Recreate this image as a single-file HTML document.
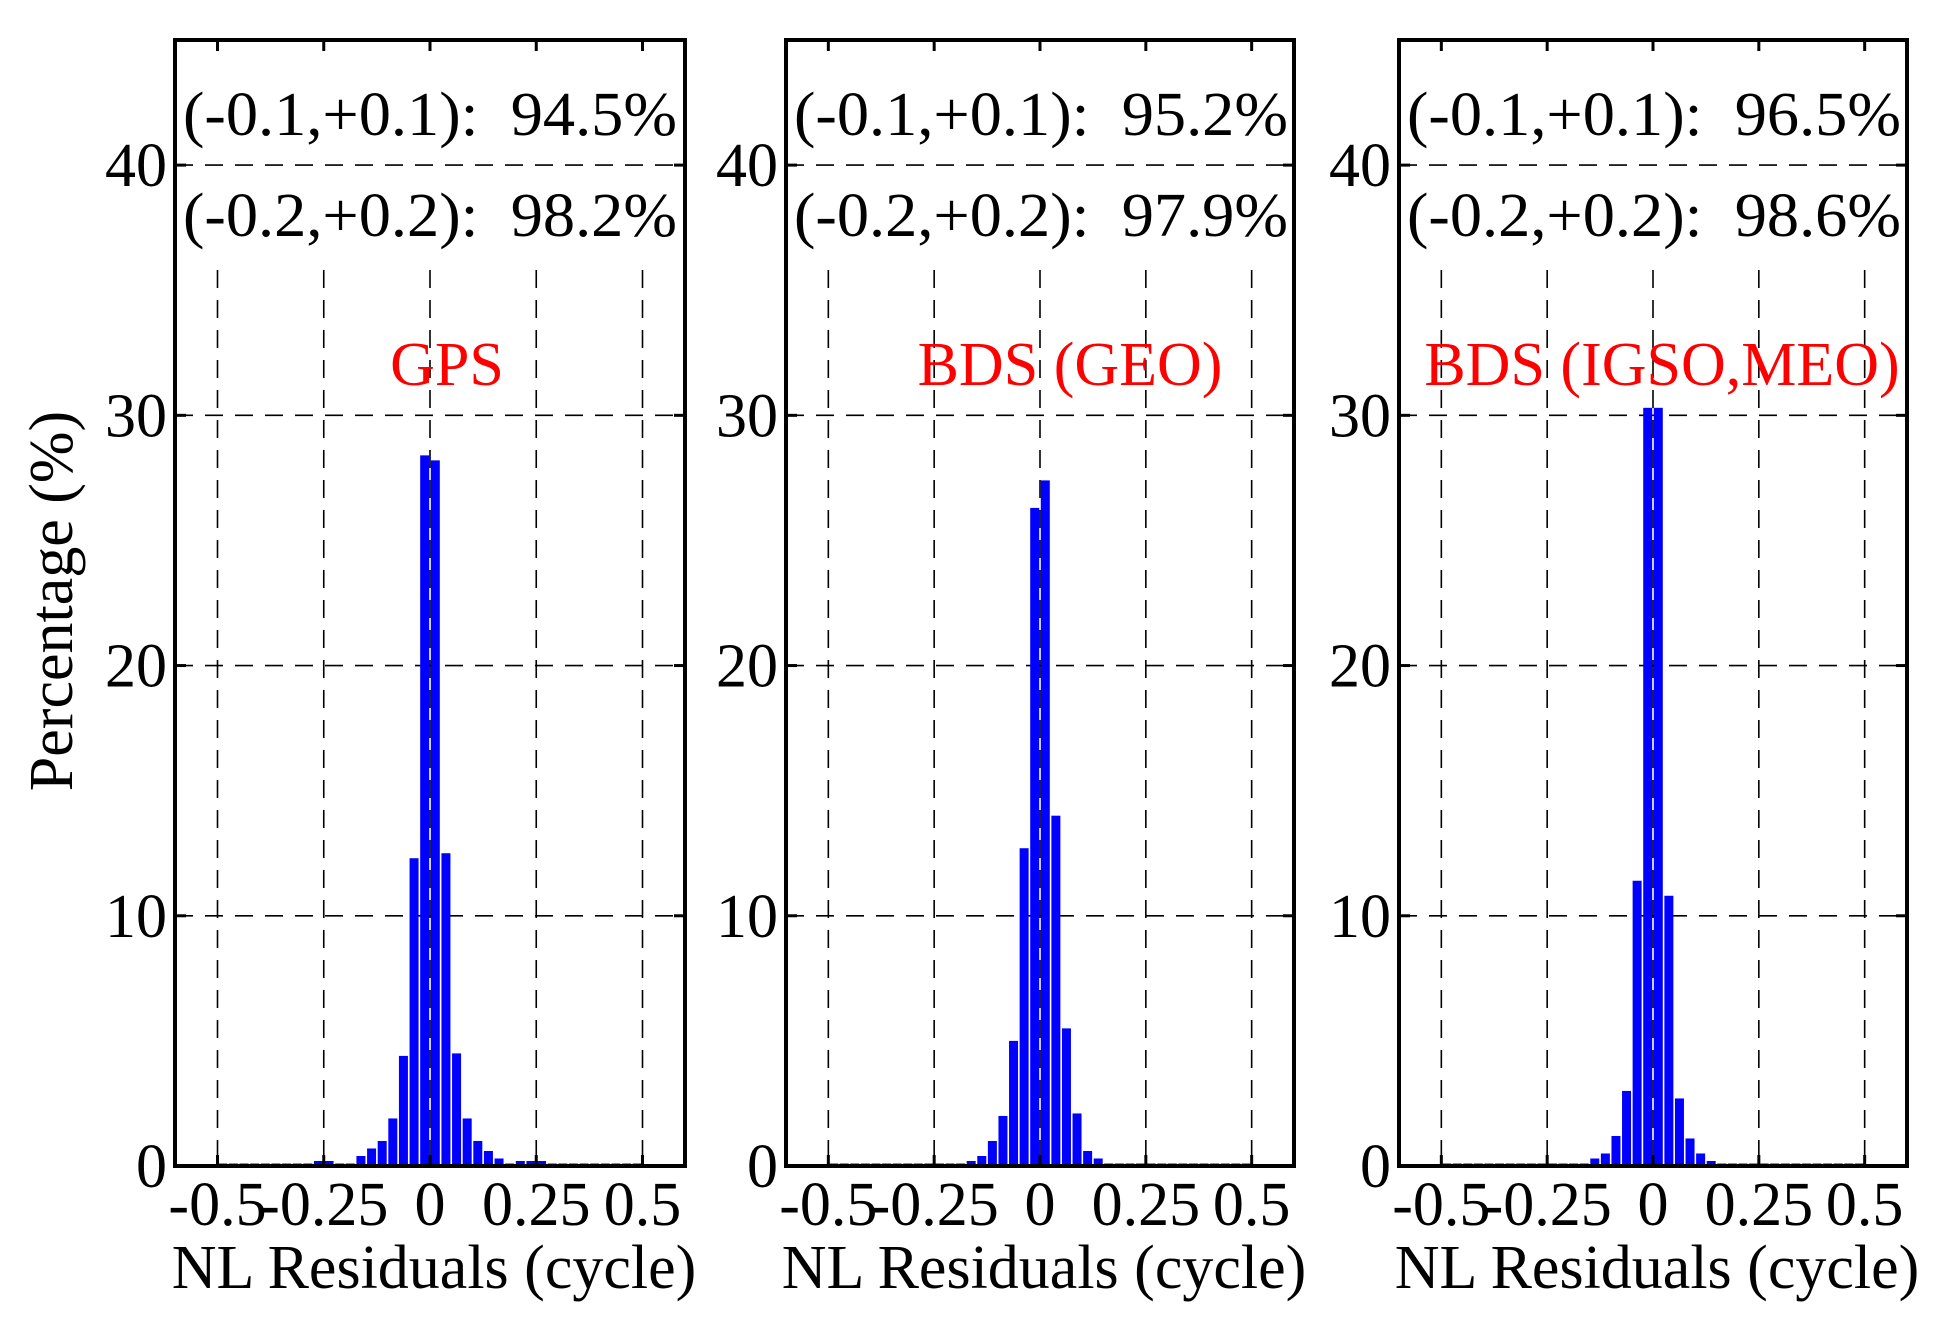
<!DOCTYPE html>
<html><head><meta charset="utf-8"><style>html,body{margin:0;padding:0;background:#fff}svg{display:block}svg text{font-family:"Liberation Serif",serif}</style></head>
<body>
<svg id="s" width="1953" height="1341" xmlns="http://www.w3.org/2000/svg"></svg>
<script>
(function(){
const s=document.getElementById('s');let h='';
const T0=40,B0=1166,ppy=(B0-T0)/45;
const Y=v=>B0-v*ppy;
const panels=[
 {L:175,R:685,t1:'94.5%',t2:'98.2%',name:'GPS',cx:447,
  c:[28.4,12.3,4.4,1.9,1.0,0.7,0.4,0.1,0.1,0.2,0.2,0.1,0.1,0.1,0.1,0.1,0.1,0.1,0.1,0.1],
  p:[28.2,12.5,4.5,1.9,1.0,0.6,0.3,0.1,0.2,0.2,0.2,0.1,0.1,0.1,0.1,0.1,0.1,0.1,0.1,0.1]},
 {L:786,R:1294,t1:'95.2%',t2:'97.9%',name:'BDS (GEO)',cx:1070,
  c:[26.3,12.7,5.0,2.0,1.0,0.4,0.2,0.1,0.1,0.1,0.1,0.1,0.1,0.1,0.1,0.1,0.1,0.1,0.1,0.1],
  p:[27.4,14.0,5.5,2.1,0.6,0.3,0.1,0.1,0.1,0.1,0.1,0.1,0.1,0.1,0.1,0.1,0.1,0.1,0.1,0.1]},
 {L:1399,R:1907,t1:'96.5%',t2:'98.6%',name:'BDS (IGSO,MEO)',cx:1662,
  c:[30.3,11.4,3.0,1.2,0.5,0.3,0.1,0.1,0.1,0.1,0.1,0.1,0.1,0.1,0.1,0.1,0.1,0.1,0.1,0.1],
  p:[30.3,10.8,2.7,1.1,0.5,0.2,0.1,0.1,0.1,0.1,0.1,0.1,0.1,0.1,0.1,0.1,0.1,0.1,0.1,0.1]}
];
panels.forEach(P=>{
 const ppx=(P.R-P.L)/1.2, X=v=>P.L+(v+0.6)*ppx;
 [10,20,30,40].forEach(v=>{h+=`<line x1="${P.L}" x2="${P.R}" y1="${Y(v)}" y2="${Y(v)}" stroke="#000" stroke-width="1.6" stroke-dasharray="18,12"/>`;});
 [-0.5,-0.25,0,0.25,0.5].forEach(v=>{h+=`<line x1="${X(v)}" x2="${X(v)}" y1="270" y2="${B0}" stroke="#000" stroke-width="1.6" stroke-dasharray="18,12"/>`;});
 const bw=9;
 for(let i=0;i<20;i++){
  [[0.0125+i*0.025,P.p[i]],[-0.0125-i*0.025,P.c[i]]].forEach(([c,v])=>{
   h+=`<rect x="${X(c)-bw/2}" y="${Y(v)}" width="${bw}" height="${v*ppy}" fill="#0000ff"/>`;});
 }
 [-0.5,-0.25,0,0.25,0.5].forEach(v=>{h+=`<line x1="${X(v)}" x2="${X(v)}" y1="${B0}" y2="${B0-11}" stroke="#000" stroke-width="3"/><line x1="${X(v)}" x2="${X(v)}" y1="${T0}" y2="${T0+11}" stroke="#000" stroke-width="3"/>`;});
 [0,10,20,30,40].forEach(v=>{h+=`<line x1="${P.L}" x2="${P.L+11}" y1="${Y(v)}" y2="${Y(v)}" stroke="#000" stroke-width="3"/><line x1="${P.R}" x2="${P.R-11}" y1="${Y(v)}" y2="${Y(v)}" stroke="#000" stroke-width="3"/>`;
  h+=`<text x="${P.L-8}" y="${Y(v)+21}" font-size="62" text-anchor="end">${v}</text>`;});
 h+=`<rect x="${P.L}" y="${T0}" width="${P.R-P.L}" height="${B0-T0}" fill="none" stroke="#000" stroke-width="4"/>`;
 [['-0.5',-0.5],['-0.25',-0.25],['0',0],['0.25',0.25],['0.5',0.5]].forEach(([t,v])=>{
  h+=`<text x="${X(v)}" y="1225" font-size="62" text-anchor="middle">${t}</text>`;});
 h+=`<text x="${(P.L+P.R)/2+4}" y="1288" font-size="62" text-anchor="middle">NL Residuals (cycle)</text>`;
 h+=`<text x="${P.L+8}" y="135" font-size="62" textLength="494" lengthAdjust="spacingAndGlyphs" xml:space="preserve">(-0.1,+0.1):  ${P.t1}</text>`;
 h+=`<text x="${P.L+8}" y="236" font-size="62" textLength="494" lengthAdjust="spacingAndGlyphs" xml:space="preserve">(-0.2,+0.2):  ${P.t2}</text>`;
 h+=`<text x="${P.cx}" y="385" font-size="62" fill="#ff0000" text-anchor="middle">${P.name}</text>`;
});
h+=`<text transform="translate(72,601) rotate(-90)" font-size="62" text-anchor="middle">Percentage (%)</text>`;
s.innerHTML=h;
})();
</script>
</body></html>
